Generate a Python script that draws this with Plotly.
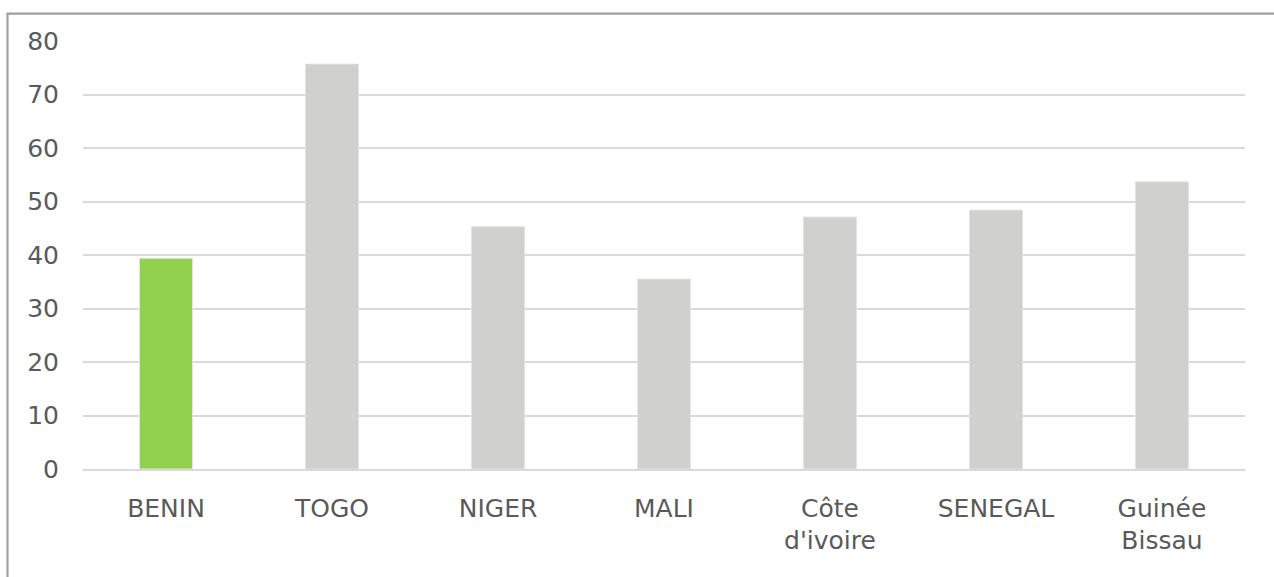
import plotly.graph_objects as go

categories = ["BENIN", "TOGO", "NIGER", "MALI", "Côte<br>d'ivoire", "SENEGAL", "Guinée<br>Bissau"]
values = [39.4, 75.7, 45.3, 35.5, 47.1, 48.4, 53.7]
colors = ["#92D050", "#D0D0CE", "#D0D0CE", "#D0D0CE", "#D0D0CE", "#D0D0CE", "#D0D0CE"]
y_ticks = [0, 10, 20, 30, 40, 50, 60, 70, 80]

W, H = 1274, 577
L, R, T, B = 83, 29, 41, 108
pw, ph = W - L - R, H - T - B

fig = go.Figure(go.Bar(
    x=categories, y=values,
    marker=dict(color=colors, line=dict(color="#E4E4E4", width=1)),
    width=0.32,
))

font = dict(family="DejaVu Sans, sans-serif", size=25, color="#5A5A5A")

fig.update_layout(
    width=W, height=H,
    margin=dict(l=L, r=R, t=T, b=B),
    paper_bgcolor="white", plot_bgcolor="white",
    showlegend=False,
    font=font,
    xaxis=dict(showgrid=False, showline=True, linecolor="#D9D9D9", linewidth=1.5,
               tickfont=font, ticks="", ticklabelstandoff=16, fixedrange=True),
    yaxis=dict(range=[0, 80], tickvals=y_ticks, showgrid=True, gridcolor="#D9D9D9",
               gridwidth=1.5, zeroline=False, showline=False, tickfont=font,
               ticklabelstandoff=23, fixedrange=True),
    shapes=[dict(type="rect", xref="paper", yref="paper",
                 x0=(7.5 - L) / pw, x1=(W + 10 - L) / pw,
                 y0=-(B + 10) / ph, y1=1 + (T - 13.7) / ph,
                 line=dict(color="#A0A0A0", width=2.2), fillcolor="rgba(0,0,0,0)",
                 layer="above")],
)

fig.write_html("out.html")
